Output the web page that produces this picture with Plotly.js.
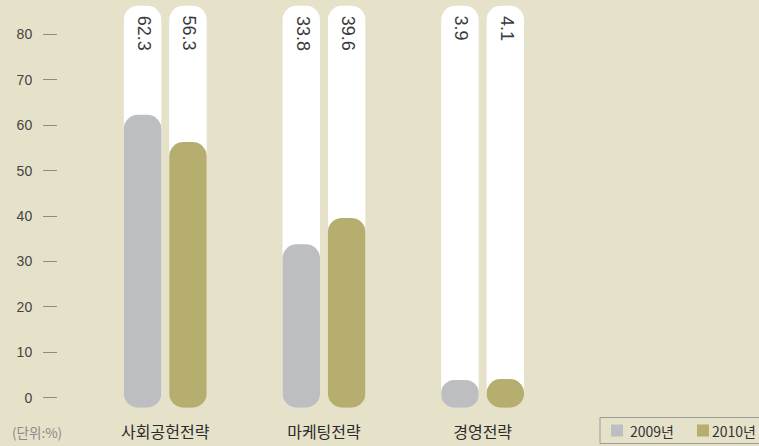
<!DOCTYPE html>
<html><head><meta charset="utf-8">
<script src="https://cdn.plot.ly/plotly-3.0.1.min.js"></script>
<style>html,body{margin:0;padding:0;background:#e6e1c9;}#chart{width:759px;height:446px;}</style>
</head><body><div id="chart"></div>
<script>
const categories = ['사회공헌전략', '마케팅전략', '경영전략'];
const values2009 = [62.3, 33.8, 3.9];
const values2010 = [56.3, 39.6, 4.1];
const seriesNames = ['2009년', '2010년'];
const yTickVals = [0, 10, 20, 30, 40, 50, 60, 70, 80];
const unitLabel = '(단위:%)';

const BG = '#e6e1c9';
const GRAY = '#bdbec2';
const OLIVE = '#b5ae6e';
const FLOOR = -2.2;
const CEIL = 86.3;
const W = 0.236;
const OFF = [-0.261, 0.025];
const R = 14;

function pill(vals, off, color, name) {
  return {
    type: 'bar', x: categories, base: categories.map(() => FLOOR), y: vals.map(v => v - FLOOR),
    width: W, offset: off, marker: {color: color, cornerradius: R, line: {width: 0}},
    name: name, showlegend: false, hoverinfo: 'skip'
  };
}

const traces = [
  pill(categories.map(() => CEIL), OFF[0], '#ffffff', 'bg2009'),
  pill(categories.map(() => CEIL), OFF[1], '#ffffff', 'bg2010'),
  pill(values2009, OFF[0], GRAY, seriesNames[0]),
  pill(values2010, OFF[1], OLIVE, seriesNames[1])
];

const annotations = [];
[values2009, values2010].forEach((vals, s) => {
  vals.forEach((v, i) => {
    annotations.push({
      text: v.toFixed(1), x: i + OFF[s] + W / 2, y: CEIL, xref: 'x', yref: 'y',
      xanchor: 'center', yanchor: 'top', yshift: -8, xshift: 1, textangle: 90, showarrow: false,
      font: {family: '"Liberation Sans", Arial, sans-serif', size: 18, color: '#3a3a3a'}
    });
  });
});

const layout = {
  width: 759, height: 446,
  paper_bgcolor: BG, plot_bgcolor: BG,
  margin: {l: 58, r: 196.5, t: 3, b: 38},
  barmode: 'overlay',
  hovermode: false,
  showlegend: false,
  font: {family: '"Noto Sans CJK KR", sans-serif', color: '#333'},
  xaxis: {
    type: 'category', range: [-0.676, 2.5], showgrid: false, zeroline: false, showline: false,
    ticks: '', tickfont: {family: '"Noto Sans CJK KR", sans-serif', size: 16, color: '#2a2a2a'},
    ticklabelstandoff: 13, fixedrange: true
  },
  yaxis: {
    range: [-2.27, 86.93], tickvals: yTickVals, ticktext: yTickVals.map(String),
    showgrid: false, zeroline: false, showline: false,
    ticks: 'outside', ticklen: 14, tickcolor: '#8a8a8a', tickwidth: 1,
    tickfont: {family: '"Liberation Sans", Arial, sans-serif', size: 14, color: '#444'},
    ticklabelstandoff: 8, fixedrange: true
  },
  annotations: annotations,
  shapes: []
};

Plotly.newPlot('chart', traces, layout, {displayModeBar: false, staticPlot: true}).then(gd => {
  const sz = gd._fullLayout._size;
  const px = p => (p - sz.l) / sz.w;
  const py = p => (446 - sz.b - p) / sz.h;
  const anns = gd.layout.annotations.slice();
  anns.push({
    text: unitLabel, xref: 'paper', yref: 'paper', x: px(37), y: py(432), xanchor: 'center', yanchor: 'middle',
    showarrow: false, font: {family: '"Noto Sans CJK KR", sans-serif', size: 13.5, color: '#8a8a8a'}
  });
  const shapes = [
    {type: 'rect', xref: 'paper', yref: 'paper', x0: px(600), x1: px(775), y0: py(417.5), y1: py(443.5),
     line: {color: '#9a9a9a', width: 1}, fillcolor: 'rgba(0,0,0,0)'},
    {type: 'rect', xref: 'paper', yref: 'paper', x0: px(611), x1: px(623), y0: py(424.5), y1: py(436.5),
     line: {width: 0}, fillcolor: GRAY},
    {type: 'rect', xref: 'paper', yref: 'paper', x0: px(697), x1: px(709), y0: py(424.5), y1: py(436.5),
     line: {width: 0}, fillcolor: OLIVE}
  ];
  anns.push({text: seriesNames[0], xref: 'paper', yref: 'paper', x: px(628), y: py(431), xanchor: 'left', yanchor: 'middle',
    showarrow: false, font: {family: '"Noto Sans CJK KR", sans-serif', size: 14, color: '#333'}});
  anns.push({text: seriesNames[1], xref: 'paper', yref: 'paper', x: px(710), y: py(431), xanchor: 'left', yanchor: 'middle',
    showarrow: false, font: {family: '"Noto Sans CJK KR", sans-serif', size: 14, color: '#333'}});
  return Plotly.relayout(gd, {annotations: anns, shapes: shapes});
});
</script></body></html>
